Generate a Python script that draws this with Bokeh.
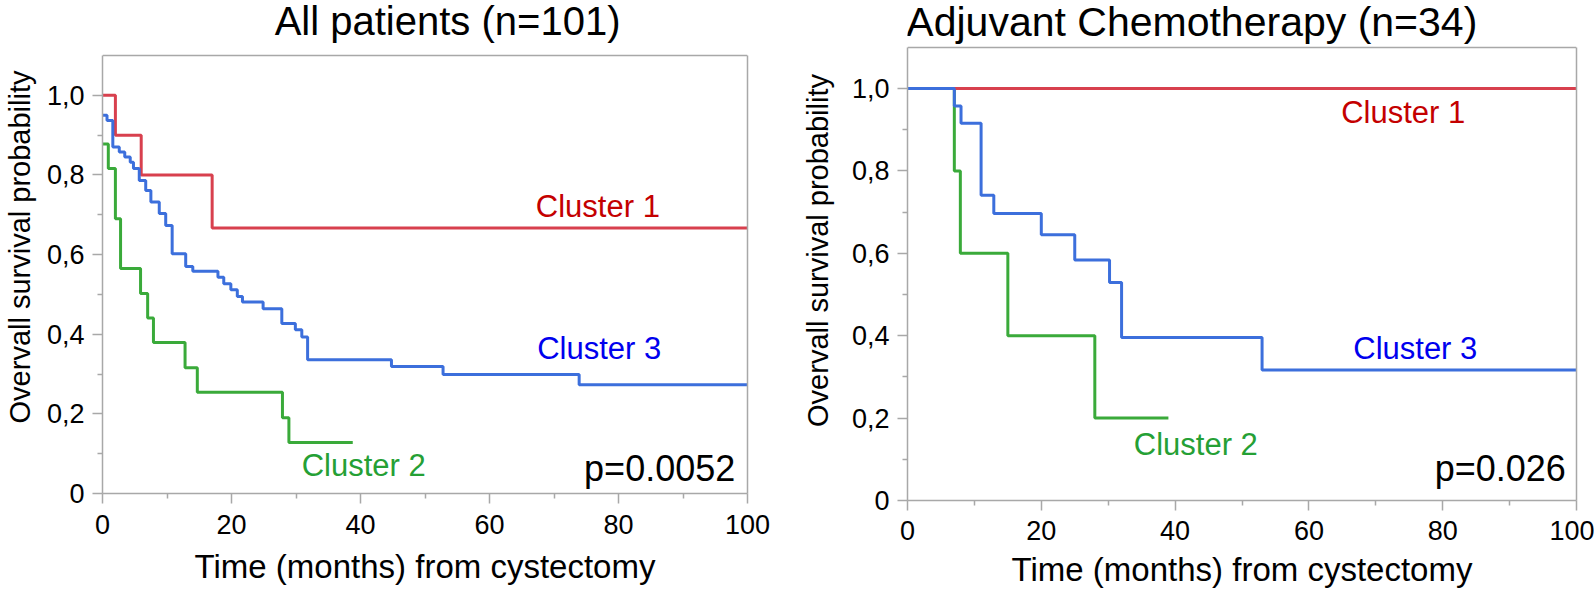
from bokeh.plotting import figure
from bokeh.layouts import row, column
from bokeh.models import (Range1d, FixedTicker, CustomJSTickFormatter, Label, Span,
                          LinearAxis)
from bokeh.embed import file_html
from bokeh.resources import INLINE

# ---------------- data ----------------
# All patients (n=101)
all_c1_t = [0, 2.0, 6.0, 17.0, 100]
all_c1_s = [1.0, 0.9, 0.8, 0.667, 0.667]

all_c2_t = [0, 0.9, 2.0, 2.8, 5.9, 7.0, 7.9, 12.8, 14.7, 27.9, 28.9, 38.8]
all_c2_s = [0.878, 0.816, 0.69, 0.565, 0.502, 0.441, 0.379, 0.316, 0.254, 0.19, 0.128, 0.128]

all_c3_t = [0, 0.7, 1.6, 2.6, 3.45, 4.3, 4.8, 5.7, 6.7, 7.5, 8.8, 9.8, 10.8, 12.9, 14.0,
            17.9, 18.8, 19.9, 20.9, 21.7, 24.9, 27.8, 29.9, 30.9, 31.8, 44.8, 52.8, 73.9, 100]
all_c3_s = [0.95, 0.937, 0.870, 0.858, 0.845, 0.832, 0.816, 0.786, 0.761, 0.732, 0.703, 0.673,
            0.602, 0.570, 0.558, 0.543, 0.527, 0.512, 0.495, 0.481, 0.464, 0.427, 0.411, 0.393,
            0.336, 0.319, 0.299, 0.273, 0.273]

# Adjuvant chemotherapy (n=34)
adj_c1_t = [0, 100]
adj_c1_s = [1.0, 1.0]

adj_c2_t = [0, 7.0, 7.9, 15.0, 28.0, 39.0]
adj_c2_s = [1.0, 0.8, 0.6, 0.4, 0.2, 0.2]

adj_c3_t = [0, 7.0, 8.0, 11.0, 12.9, 20.0, 25.0, 30.2, 32.0, 53.0, 100]
adj_c3_s = [1.0, 0.958, 0.916, 0.741, 0.697, 0.645, 0.584, 0.529, 0.396, 0.317, 0.317]

titles = ["All patients (n=101)", "Adjuvant Chemotherapy (n=34)"]
p_values = ["p=0.0052", "p=0.026"]
cluster_names = ["Cluster 1", "Cluster 2", "Cluster 3"]
x_ticks = [0, 20, 40, 60, 80, 100]
x_minor = [10, 30, 50, 70, 90]
y_ticks = [0, 0.2, 0.4, 0.6, 0.8, 1.0]
y_minor = [0.1, 0.3, 0.5, 0.7, 0.9]
Y_TOP = 1.1   # upper edge of the plotted box

# ---------------- style ----------------
FONT = "Liberation Sans"
LINE_RED, LINE_GREEN, LINE_BLUE = "#d8404e", "#3aaa3a", "#3c6fdc"
TXT_RED, TXT_GREEN, TXT_BLUE = "#c40000", "#25a035", "#0000ee"
GREY = "#a8a8a8"


def style_axis(ax):
    ax.axis_line_color = GREY
    ax.axis_line_width = 1.5
    ax.major_tick_line_color = GREY
    ax.major_tick_line_width = 1.5
    ax.minor_tick_line_color = GREY
    ax.minor_tick_line_width = 1.5
    ax.major_tick_out = 10
    ax.major_tick_in = 0
    ax.minor_tick_out = 5
    ax.minor_tick_in = 0
    ax.major_label_text_font = FONT
    ax.major_label_text_font_size = "27px"
    ax.major_label_text_color = "black"
    ax.axis_label_text_font = FONT
    ax.axis_label_text_font_style = "normal"
    ax.axis_label_text_color = "black"


def make_fig(width, height, mbl, mbr, mbb, y_max, tick_sd, lab_sd, ylab_sd):
    p = figure(width=width, height=height, output_backend="svg", toolbar_location=None,
               x_range=Range1d(0, 100), y_range=Range1d(0, y_max),
               min_border_left=mbl, min_border_right=mbr,
               min_border_top=0, min_border_bottom=mbb)
    p.xgrid.visible = False
    p.ygrid.visible = False
    p.outline_line_color = None
    p.background_fill_color = "white"
    p.border_fill_color = "white"
    p.xaxis.ticker = FixedTicker(ticks=x_ticks, minor_ticks=x_minor)
    p.yaxis.ticker = FixedTicker(ticks=y_ticks, minor_ticks=y_minor)
    p.yaxis.bounds = (0, Y_TOP)
    p.yaxis.formatter = CustomJSTickFormatter(
        code="return tick == 0 ? '0' : tick.toFixed(1).replace('.', ',');")
    style_axis(p.xaxis[0])
    style_axis(p.yaxis[0])
    p.xaxis.major_label_standoff = tick_sd
    p.xaxis.major_label_text_line_height = 1.0
    p.yaxis.major_label_standoff = 8
    p.xaxis.axis_label = "Time (months) from cystectomy"
    p.xaxis.axis_label_text_font_size = "33px"
    p.xaxis.axis_label_text_line_height = 1.0
    p.xaxis.axis_label_standoff = lab_sd
    p.yaxis.axis_label = "Overvall survival probability"
    p.yaxis.axis_label_text_font_size = "29px"
    p.yaxis.axis_label_standoff = ylab_sd
    # box border: right edge and top edge
    rax = LinearAxis(ticker=FixedTicker(ticks=[]), bounds=(0, Y_TOP),
                     axis_line_color=GREY, axis_line_width=1.5,
                     major_tick_out=0, major_tick_in=0, minor_tick_out=0, minor_tick_in=0,
                     major_label_text_alpha=0)
    p.add_layout(rax, "right")
    p.add_layout(Span(location=Y_TOP, dimension="width", line_color=GREY, line_width=1.5))
    return p


def add_label(p, x, y, text, color, size, align="center", baseline="middle"):
    p.add_layout(Label(x=x, y=y, text=text, text_color=color, text_font=FONT,
                       text_font_size=size, text_align=align, text_baseline=baseline))


# ---- left panel ---- (box 100..747 x 55..493 px)
p1 = make_fig(790, 591, 100, 43, 98, 1.1 + 55 / 398, 11, 11, 8)
p1.step(all_c2_t, all_c2_s, mode="after", line_color=LINE_GREEN, line_width=3)
p1.step(all_c1_t, all_c1_s, mode="after", line_color=LINE_RED, line_width=3)
p1.step(all_c3_t, all_c3_s, mode="after", line_color=LINE_BLUE, line_width=3)
add_label(p1, 53.5, 1.187, titles[0], "black", "40px", baseline="alphabetic")
add_label(p1, 76.8, 0.722, cluster_names[0], TXT_RED, "31px")
add_label(p1, 40.5, 0.070, cluster_names[1], TXT_GREEN, "31px")
add_label(p1, 77.0, 0.364, cluster_names[2], TXT_BLUE, "31px")
add_label(p1, 98.1, 0.063, p_values[0], "black", "36px", align="right")

# ---- right panel ---- (box 907..1576 x 47..500 px)
p2 = make_fig(804, 591, 117, 18, 91, 1.1 + 47 / 412.7, 10, 8, 15)
p2.step(adj_c2_t, adj_c2_s, mode="after", line_color=LINE_GREEN, line_width=3)
p2.step(adj_c1_t, adj_c1_s, mode="after", line_color=LINE_RED, line_width=3)
p2.step(adj_c3_t, adj_c3_s, mode="after", line_color=LINE_BLUE, line_width=3)
add_label(p2, 42.5, 1.162, titles[1], "black", "41px", baseline="alphabetic")
add_label(p2, 74.1, 0.941, cluster_names[0], TXT_RED, "31px")
add_label(p2, 43.1, 0.136, cluster_names[1], TXT_GREEN, "31px")
add_label(p2, 75.9, 0.368, cluster_names[2], TXT_BLUE, "31px")
add_label(p2, 98.4, 0.077, p_values[1], "black", "36px", align="right")

layout = row(column(p1), column(p2))
open("out.html", "w").write(file_html(layout, INLINE))
